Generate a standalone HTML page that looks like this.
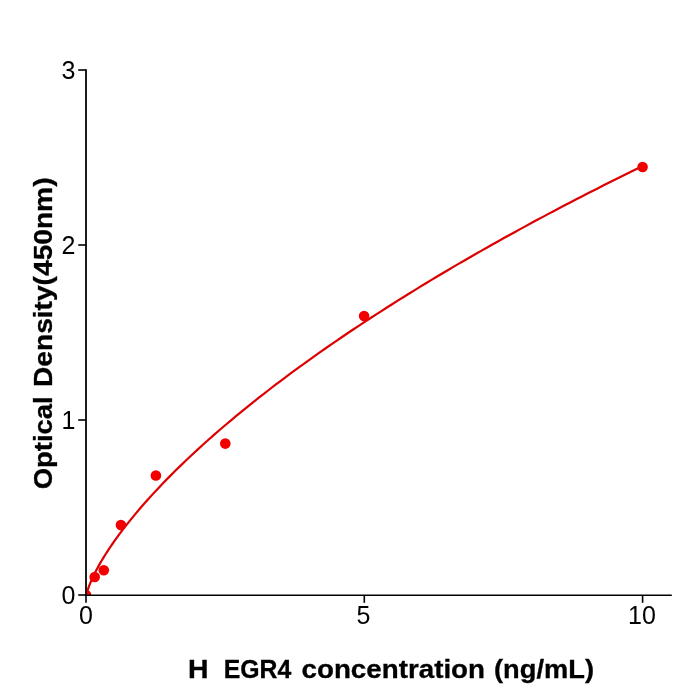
<!DOCTYPE html>
<html><head><meta charset="utf-8">
<style>
html,body{margin:0;padding:0;background:#fff;}
body{width:700px;height:700px;overflow:hidden;}
svg{display:block;will-change:transform;}
text{font-family:"Liberation Sans",sans-serif;fill:#000;}
.t{font-size:25px;}
.b{font-size:25px;font-weight:bold;stroke:#000;stroke-width:0.3;}
</style></head><body>
<svg width="700" height="700" viewBox="0 0 700 700">
<rect width="700" height="700" fill="#fff"/>
<defs><clipPath id="ax"><rect x="86" y="60" width="600" height="535"/></clipPath></defs>
<g clip-path="url(#ax)">
<polyline fill="none" stroke="#dd0000" stroke-width="2.2" stroke-linejoin="round" points="86.00,597.43 87.11,591.99 88.23,588.43 89.34,585.36 90.45,582.57 91.57,579.97 92.68,577.52 93.79,575.17 94.91,572.92 96.02,570.75 97.13,568.65 98.25,566.61 99.36,564.61 100.47,562.67 101.58,560.77 102.70,558.91 103.81,557.08 104.92,555.29 106.04,553.53 107.15,551.79 108.26,550.09 109.38,548.41 110.49,546.75 111.60,545.11 112.72,543.50 113.83,541.90 119.40,534.19 124.96,526.86 130.53,519.85 136.09,513.10 141.66,506.58 147.23,500.26 152.79,494.13 158.36,488.15 163.92,482.32 169.49,476.63 175.06,471.06 180.62,465.60 186.19,460.25 191.75,455.00 197.32,449.84 202.89,444.76 208.45,439.77 214.02,434.86 219.58,430.02 225.15,425.25 230.72,420.54 236.28,415.90 241.85,411.32 247.41,406.80 252.98,402.34 258.55,397.92 264.11,393.56 269.68,389.25 275.24,384.99 280.81,380.77 286.38,376.60 291.94,372.47 297.51,368.38 303.07,364.33 308.64,360.32 314.21,356.35 319.77,352.41 325.34,348.52 330.90,344.65 336.47,340.82 342.04,337.02 347.60,333.26 353.17,329.52 358.73,325.82 364.30,322.15 369.87,318.50 375.43,314.89 381.00,311.30 386.56,307.74 392.13,304.20 397.70,300.69 403.26,297.21 408.83,293.75 414.39,290.32 419.96,286.91 425.53,283.52 431.09,280.16 436.66,276.81 442.22,273.49 447.79,270.20 453.36,266.92 458.92,263.66 464.49,260.43 470.05,257.21 475.62,254.02 481.19,250.84 486.75,247.69 492.32,244.55 497.88,241.43 503.45,238.33 509.02,235.25 514.58,232.18 520.15,229.13 525.71,226.10 531.28,223.09 536.85,220.09 542.41,217.11 547.98,214.14 553.54,211.19 559.11,208.26 564.68,205.34 570.24,202.44 575.81,199.55 581.37,196.68 586.94,193.82 592.51,190.98 598.07,188.15 603.64,185.33 609.20,182.53 614.77,179.74 620.34,176.96 625.90,174.20 631.47,171.45 637.03,168.72 642.60,166.00"/>
<g fill="#f20000">
<circle cx="86" cy="595" r="5.3"/>
<circle cx="94.7" cy="577.0" r="5.3"/>
<circle cx="103.8" cy="570.2" r="5.3"/>
<circle cx="120.9" cy="525.1" r="5.3"/>
<circle cx="155.9" cy="475.5" r="5.3"/>
<circle cx="225.3" cy="443.6" r="5.3"/>
<circle cx="364.1" cy="316.1" r="5.3"/>
<circle cx="642.6" cy="167.0" r="5.3"/>
</g>
</g>
<g stroke="#000" fill="none">
<line x1="86" y1="69.2" x2="86" y2="596" stroke-width="1.78"/>
<line x1="85.1" y1="595.25" x2="671.8" y2="595.25" stroke-width="1.6"/>
<g stroke-width="1.6">
<line x1="78.2" y1="70" x2="86" y2="70"/>
<line x1="78.2" y1="245" x2="86" y2="245"/>
<line x1="78.2" y1="420" x2="86" y2="420"/>
<line x1="78.2" y1="595" x2="86" y2="595"/>
<line x1="86" y1="595" x2="86" y2="602.8"/>
<line x1="364.3" y1="595" x2="364.3" y2="602.8"/>
<line x1="642.6" y1="595" x2="642.6" y2="602.8"/>
</g>
</g>
<g class="t">
<text x="75.3" y="79" text-anchor="end">3</text>
<text x="75.3" y="254" text-anchor="end">2</text>
<text x="75.3" y="429" text-anchor="end">1</text>
<text x="75.3" y="604" text-anchor="end">0</text>
<text x="86" y="623.9" text-anchor="middle">0</text>
<text x="363.5" y="623.9" text-anchor="middle">5</text>
<text x="642.0" y="623.9" text-anchor="middle">10</text>
</g>
<text class="b" x="188" y="678" textLength="20.5" lengthAdjust="spacingAndGlyphs">H</text>
<text class="b" x="223.7" y="678" textLength="67.5" lengthAdjust="spacingAndGlyphs">EGR4</text>
<text class="b" x="301.5" y="678" textLength="183.5" lengthAdjust="spacingAndGlyphs">concentration</text>
<text class="b" x="494" y="678" textLength="100" lengthAdjust="spacingAndGlyphs">(ng/mL)</text>
<text class="b" transform="translate(52.0,489.3) rotate(-90)" textLength="93" lengthAdjust="spacingAndGlyphs">Optical</text>
<text class="b" transform="translate(52.0,387) rotate(-90)" textLength="209.5" lengthAdjust="spacingAndGlyphs">Density(450nm)</text>
</svg>
</body></html>
